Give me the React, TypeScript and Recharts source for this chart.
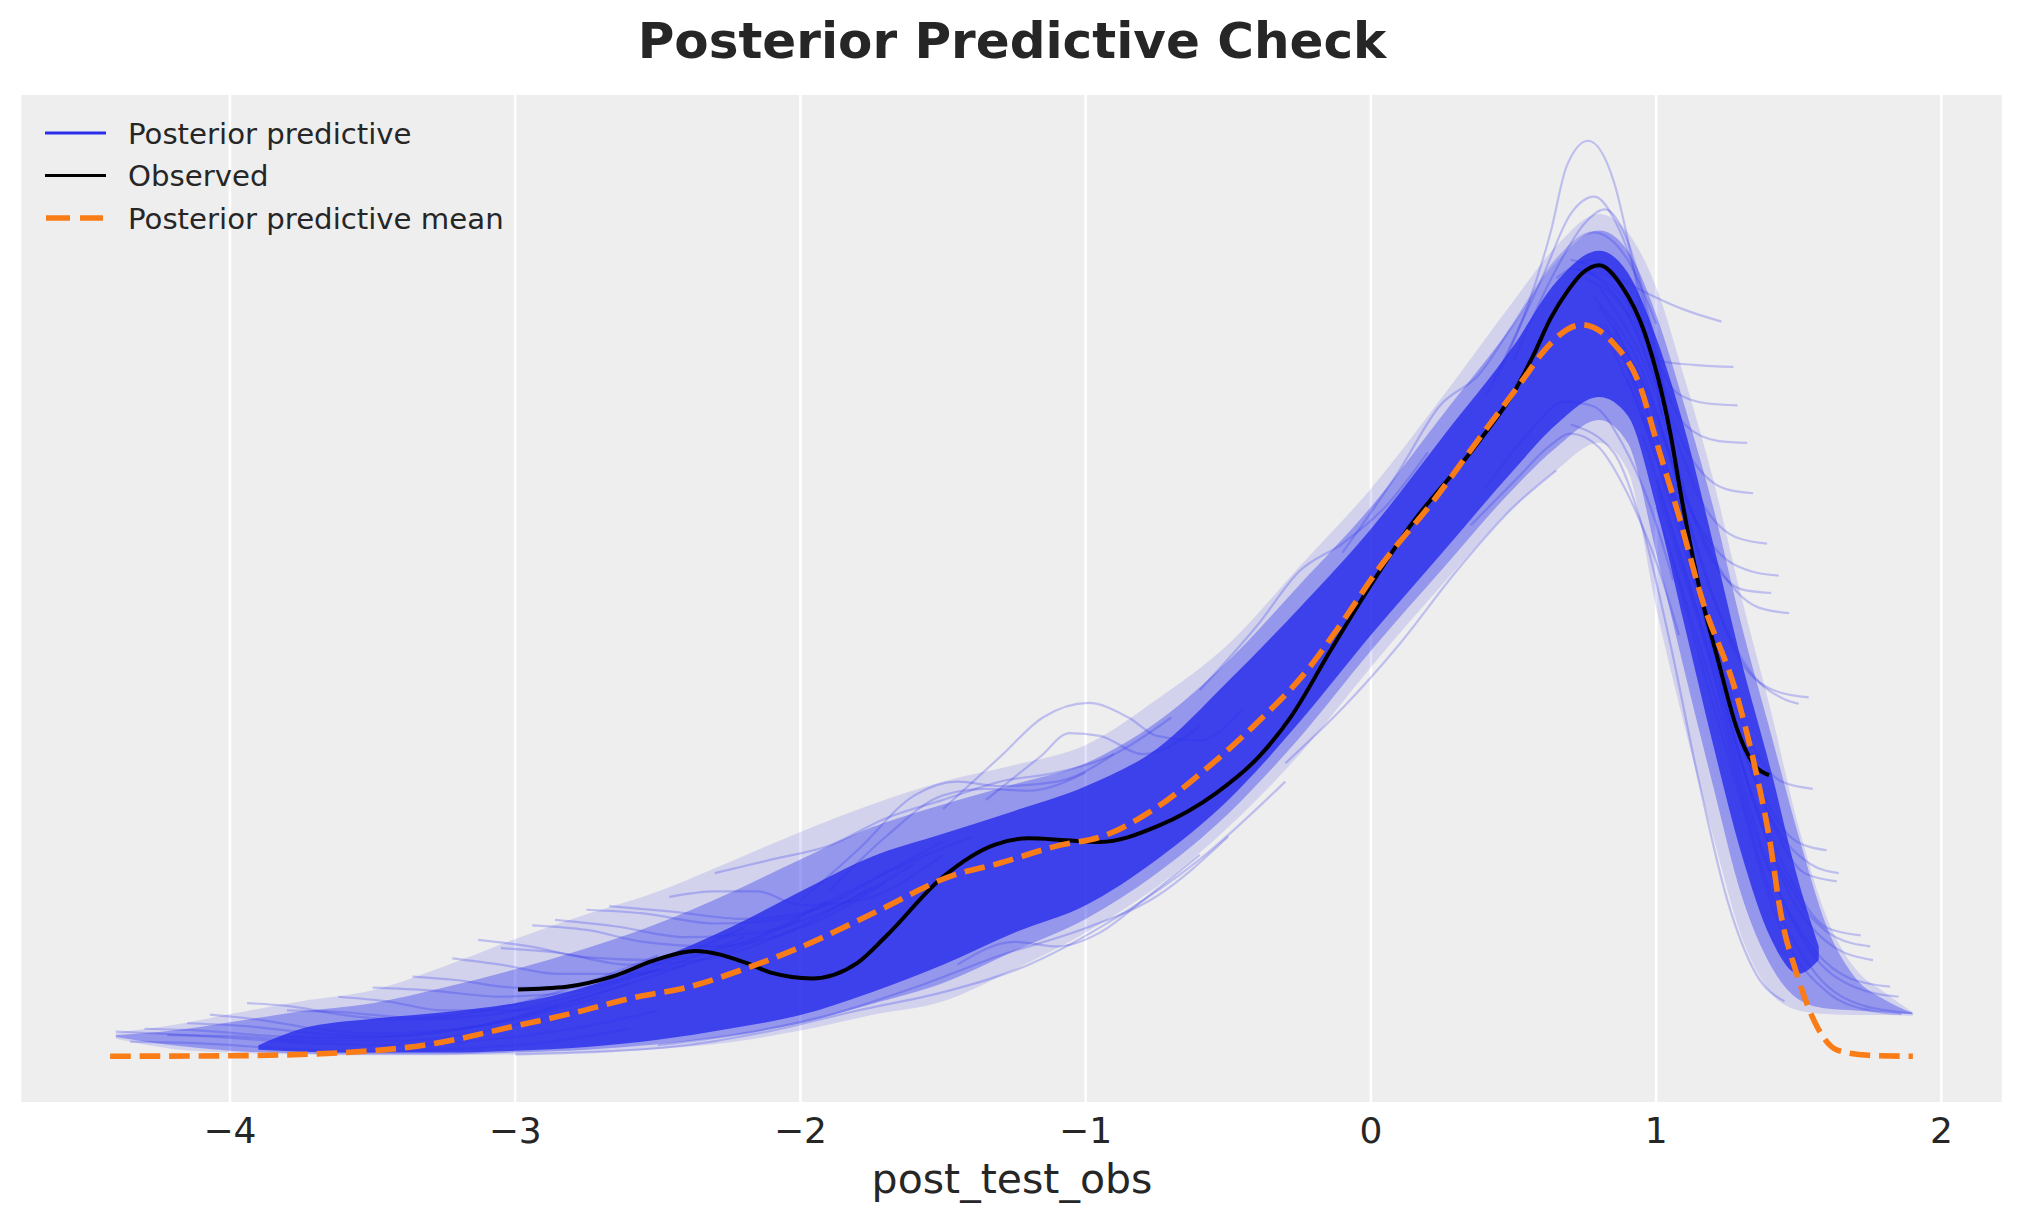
import React from "react";
import {
  ComposedChart,
  Line,
  Area,
  XAxis,
  YAxis,
  CartesianGrid,
} from "recharts";

// colores del estilo arviz-darkgrid
const BLUE = "#2a2eec";
const ORANGE = "#fa7c17";
const TEXT = "#262626";
const FONT = "DejaVu Sans, sans-serif";

const xTicks = [-4, -3, -2, -1, 0, 1, 2];

const obsX = [
  -2.99, -2.82, -2.66, -2.5, -2.37, -2.19, -2.1, -1.96, -1.8, -1.7, -1.5, -1.32,
  -1.2, -1.07, -0.95, -0.75, -0.54, -0.39, -0.28, -0.14, -0.03, 0.13, 0.38,
  0.51, 0.57, 0.63, 0.69, 0.74, 0.8, 0.88, 0.96, 1.05, 1.09, 1.16, 1.215, 1.284,
  1.34, 1.396,
];
const obsY = [
  0.073, 0.076, 0.087, 0.106, 0.115, 0.102, 0.091, 0.085, 0.102, 0.131, 0.196,
  0.231, 0.238, 0.236, 0.234, 0.251, 0.288, 0.328, 0.371, 0.444, 0.5, 0.576,
  0.672, 0.73, 0.766, 0.806, 0.836, 0.855, 0.864, 0.841, 0.79, 0.68, 0.608, 0.5,
  0.435, 0.357, 0.32, 0.307,
];

// media predictiva posterior
const meanX = [
  -4.42, -4.0, -3.6, -3.3, -3.0, -2.8, -2.57, -2.4, -2.2, -2.0, -1.72, -1.48,
  -1.3, -1.11, -0.93, -0.75, -0.57, -0.39, -0.22, -0.13, 0.04, 0.22, 0.38, 0.54,
  0.6, 0.74, 0.85, 0.94, 1.01, 1.08, 1.16, 1.285, 1.354, 1.396, 1.438, 1.494,
  1.563, 1.633, 1.744, 1.9,
];
const meanY = [
  0.0, 0.0005, 0.004, 0.013, 0.033, 0.047, 0.065, 0.075, 0.095, 0.119, 0.16,
  0.196, 0.211, 0.229, 0.2415, 0.272, 0.316, 0.367, 0.423, 0.461, 0.538, 0.607,
  0.675, 0.742, 0.768, 0.799, 0.779, 0.735, 0.662, 0.59, 0.5, 0.392, 0.305, 0.24,
  0.154, 0.089, 0.033, 0.007, 0.001, 0.0,
];

// envolventes de la nube de curvas predictivas
const bandX = [
  -4.4, -4.2, -4.0, -3.75, -3.5, -3.25, -3.0, -2.75, -2.5, -2.25, -2.0, -1.75,
  -1.5, -1.25, -1.0, -0.75, -0.5, -0.25, 0.0, 0.25, 0.5, 0.65, 0.8, 0.9, 1.0,
  1.1, 1.2, 1.3, 1.4, 1.5, 1.6, 1.7, 1.8, 1.9,
];
const outerLo = [
  0.019, 0.008, 0.004, 0.002, 0.001, 0.001, 0.002, 0.004, 0.008, 0.015, 0.028,
  0.045, 0.06, 0.095, 0.135, 0.185, 0.25, 0.33, 0.425, 0.515, 0.6, 0.64, 0.67,
  0.64, 0.49, 0.36, 0.24, 0.13, 0.07, 0.05, 0.046, 0.045, 0.045, 0.044,
];
const outerHi = [
  0.026, 0.034, 0.046, 0.06, 0.072, 0.098, 0.128, 0.155, 0.18, 0.212, 0.245,
  0.275, 0.3, 0.318, 0.34, 0.39, 0.45, 0.535, 0.62, 0.72, 0.825, 0.885, 0.92,
  0.9, 0.84, 0.74, 0.63, 0.5, 0.38, 0.25, 0.15, 0.095, 0.07, 0.048,
];
const midLo = [
  0.021, 0.012, 0.006, 0.003, 0.002, 0.002, 0.004, 0.007, 0.013, 0.022, 0.036,
  0.057, 0.08, 0.115, 0.15, 0.2, 0.265, 0.348, 0.443, 0.532, 0.62, 0.665, 0.695,
  0.67, 0.55, 0.42, 0.295, 0.175, 0.1, 0.062, 0.052, 0.05, 0.048, 0.046,
];
const midHi = [
  0.023, 0.028, 0.037, 0.049, 0.058, 0.075, 0.095, 0.118, 0.145, 0.178, 0.215,
  0.25, 0.275, 0.297, 0.32, 0.365, 0.432, 0.515, 0.6, 0.7, 0.8, 0.868, 0.902,
  0.88, 0.81, 0.71, 0.6, 0.47, 0.355, 0.24, 0.14, 0.085, 0.062, 0.047,
];
const coreX = [
  -3.9, -3.75, -3.5, -3.25, -3.0, -2.75, -2.5, -2.25, -2.0, -1.75, -1.5, -1.25,
  -1.0, -0.75, -0.5, -0.25, 0.0, 0.25, 0.5, 0.65, 0.8, 0.9, 1.0, 1.1, 1.2, 1.3,
  1.4, 1.5, 1.57,
];
const coreLo = [
  0.007, 0.005, 0.004, 0.004, 0.006, 0.01, 0.018, 0.03, 0.045, 0.07, 0.1, 0.135,
  0.165, 0.215, 0.28, 0.365, 0.46, 0.55, 0.64, 0.69, 0.72, 0.7, 0.6, 0.47, 0.34,
  0.22, 0.13, 0.09, 0.105,
];
const coreHi = [
  0.012, 0.03, 0.041, 0.048, 0.058, 0.076, 0.106, 0.14, 0.18, 0.218, 0.243,
  0.268, 0.295, 0.336, 0.41, 0.49, 0.576, 0.676, 0.776, 0.846, 0.88, 0.856,
  0.785, 0.685, 0.56, 0.43, 0.315, 0.19, 0.12,
];

// curvas sueltas visibles en los bordes de la nube
const leftTails: [number, number][][] = [
  [[-4.4, 0.027], [-4.2, 0.024], [-4.0, 0.02], [-3.7, 0.014], [-3.4, 0.012], [-3.1, 0.018], [-2.8, 0.03], [-2.5, 0.05]],
  [[-4.35, 0.016], [-4.1, 0.014], [-3.8, 0.008], [-3.5, 0.005], [-3.2, 0.008], [-2.9, 0.015], [-2.6, 0.03]],
  [[-4.3, 0.03], [-4.1, 0.028], [-3.85, 0.022], [-3.6, 0.02], [-3.3, 0.025], [-3.0, 0.04], [-2.7, 0.065]],
  [[-4.22, 0.023], [-4.0, 0.022], [-3.7, 0.017], [-3.4, 0.017], [-3.1, 0.028], [-2.8, 0.05]],
  [[-4.15, 0.036], [-3.95, 0.033], [-3.7, 0.025], [-3.45, 0.022], [-3.15, 0.032], [-2.85, 0.055]],
  [[-4.07, 0.0455], [-3.9, 0.04], [-3.7, 0.03], [-3.5, 0.025], [-3.2, 0.03], [-2.9, 0.05], [-2.6, 0.08]],
  [[-3.94, 0.058], [-3.8, 0.055], [-3.6, 0.045], [-3.4, 0.04], [-3.1, 0.045], [-2.8, 0.065], [-2.5, 0.095]],
  [[-3.8, 0.05], [-3.6, 0.048], [-3.35, 0.042], [-3.1, 0.05], [-2.8, 0.075], [-2.5, 0.11]],
  [[-3.62, 0.065], [-3.45, 0.06], [-3.25, 0.05], [-3.0, 0.05], [-2.7, 0.07], [-2.4, 0.1]],
  [[-3.5, 0.075], [-3.3, 0.072], [-3.05, 0.065], [-2.8, 0.07], [-2.5, 0.1], [-2.2, 0.14]],
  [[-3.36, 0.087], [-3.2, 0.083], [-3.0, 0.075], [-2.8, 0.075], [-2.5, 0.095], [-2.2, 0.13]],
  [[-3.22, 0.107], [-3.05, 0.1], [-2.85, 0.09], [-2.6, 0.09], [-2.3, 0.11], [-2.0, 0.15]],
  [[-3.13, 0.127], [-2.95, 0.12], [-2.75, 0.108], [-2.5, 0.105], [-2.2, 0.125], [-1.9, 0.17]],
  [[-3.05, 0.118], [-2.85, 0.113], [-2.6, 0.1], [-2.35, 0.105], [-2.05, 0.135], [-1.75, 0.185]],
  [[-2.94, 0.143], [-2.75, 0.138], [-2.55, 0.125], [-2.3, 0.12], [-2.0, 0.14], [-1.7, 0.19]],
  [[-2.86, 0.149], [-2.65, 0.142], [-2.4, 0.13], [-2.15, 0.135], [-1.9, 0.16], [-1.6, 0.21]],
  [[-2.75, 0.16], [-2.55, 0.156], [-2.3, 0.145], [-2.05, 0.15], [-1.8, 0.185], [-1.5, 0.235]],
  [[-2.67, 0.164], [-2.45, 0.158], [-2.2, 0.15], [-1.95, 0.16], [-1.7, 0.2], [-1.4, 0.24]],
  [[-2.46, 0.174], [-2.3, 0.18], [-2.15, 0.18], [-2.0, 0.165], [-1.8, 0.17], [-1.5, 0.22]],
];

const strayLines: [number, number][][] = [
  [[-2.3, 0.2], [-2.1, 0.215], [-1.9, 0.23], [-1.7, 0.26], [-1.5, 0.28], [-1.3, 0.3], [-1.1, 0.31], [-0.9, 0.33], [-0.7, 0.37]],
  [[-3.0, 0.002], [-2.7, 0.005], [-2.4, 0.012], [-2.1, 0.028], [-1.8, 0.05], [-1.5, 0.07], [-1.2, 0.1], [-0.9, 0.15], [-0.6, 0.215], [-0.3, 0.3]],
  [[-2.0, 0.17], [-1.8, 0.225], [-1.6, 0.285], [-1.45, 0.3], [-1.3, 0.295], [-1.1, 0.3], [-0.9, 0.33]],
  [[-1.9, 0.18], [-1.7, 0.24], [-1.5, 0.285], [-1.35, 0.292], [-1.2, 0.29], [-1.0, 0.31]],
  [[-2.5, 0.012], [-2.2, 0.025], [-1.9, 0.045], [-1.6, 0.075], [-1.3, 0.11], [-1.0, 0.14], [-0.75, 0.175], [-0.5, 0.24]],
  [[-1.45, 0.1], [-1.25, 0.125], [-1.1, 0.12], [-0.95, 0.135], [-0.8, 0.17], [-0.6, 0.22]],
  [[-1.5, 0.27], [-1.3, 0.327], [-1.15, 0.37], [-0.99, 0.386], [-0.85, 0.37], [-0.75, 0.35], [-0.6, 0.345], [-0.45, 0.38]],
  [[-1.35, 0.28], [-1.16, 0.327], [-1.056, 0.353], [-0.95, 0.35], [-0.8, 0.33], [-0.6, 0.36]],
  [[-0.6, 0.4], [-0.4, 0.47], [-0.25, 0.53], [-0.1, 0.56], [0.05, 0.6], [0.2, 0.66]],
  [[-0.3, 0.32], [-0.1, 0.38], [0.1, 0.45], [0.3, 0.53], [0.5, 0.6], [0.65, 0.64]],
  [[-0.1, 0.55], [0.1, 0.64], [0.24, 0.71], [0.38, 0.745], [0.5, 0.8], [0.65, 0.87], [0.78, 0.9], [0.9, 0.87], [1.0, 0.8]],
  [[0.4, 0.72], [0.55, 0.82], [0.63, 0.9], [0.686, 0.972], [0.761, 1.0], [0.853, 0.954], [0.908, 0.881], [0.964, 0.79], [1.02, 0.7]],
  [[0.45, 0.75], [0.6, 0.85], [0.7, 0.92], [0.783, 0.939], [0.86, 0.91], [0.95, 0.83], [1.03, 0.72]],
  [[0.5, 0.76], [0.65, 0.86], [0.75, 0.91], [0.82, 0.925], [0.9, 0.89], [0.98, 0.8], [1.05, 0.69]],
  [[0.35, 0.58], [0.518, 0.633], [0.62, 0.665], [0.7, 0.68], [0.8, 0.665], [0.881, 0.626], [0.95, 0.58], [1.006, 0.535], [1.08, 0.46]],
  [[0.4, 0.62], [0.55, 0.68], [0.68, 0.715], [0.78, 0.71], [0.88, 0.67], [0.98, 0.6], [1.06, 0.52]],
  [[0.7, 0.69], [0.85, 0.66], [0.95, 0.58], [1.05, 0.45], [1.15, 0.3], [1.25, 0.17], [1.35, 0.09], [1.45, 0.06]],
];

const rightTails: [number, number][][] = [
  [[0.65, 0.85], [0.78, 0.87], [0.881, 0.848], [0.992, 0.83], [1.103, 0.815], [1.229, 0.8025]],
  [[0.7, 0.86], [0.85, 0.85], [0.95, 0.8], [1.006, 0.76], [1.14, 0.755], [1.271, 0.753]],
  [[0.7, 0.87], [0.85, 0.85], [0.97, 0.78], [1.075, 0.724], [1.18, 0.713], [1.285, 0.711]],
  [[0.72, 0.86], [0.88, 0.83], [1.0, 0.75], [1.1, 0.69], [1.22, 0.672], [1.319, 0.67]],
  [[0.75, 0.85], [0.9, 0.81], [1.02, 0.72], [1.13, 0.65], [1.24, 0.62], [1.34, 0.615]],
  [[0.75, 0.86], [0.92, 0.8], [1.05, 0.69], [1.17, 0.6], [1.28, 0.567], [1.389, 0.56]],
  [[0.8, 0.8], [0.98, 0.72], [1.1, 0.61], [1.22, 0.55], [1.33, 0.53], [1.43, 0.525]],
  [[0.78, 0.83], [0.95, 0.75], [1.08, 0.63], [1.2, 0.54], [1.3, 0.51], [1.403, 0.506]],
  [[0.8, 0.84], [0.98, 0.74], [1.12, 0.6], [1.25, 0.52], [1.36, 0.49], [1.466, 0.484]],
  [[0.85, 0.8], [1.04, 0.66], [1.2, 0.5], [1.33, 0.42], [1.45, 0.39], [1.5, 0.385]],
  [[0.8, 0.82], [1.0, 0.7], [1.15, 0.55], [1.28, 0.44], [1.41, 0.4], [1.535, 0.392]],
  [[0.82, 0.8], [1.02, 0.66], [1.18, 0.48], [1.32, 0.35], [1.44, 0.3], [1.549, 0.292]],
  [[0.85, 0.79], [1.05, 0.63], [1.22, 0.43], [1.37, 0.29], [1.49, 0.235], [1.598, 0.225]],
  [[0.9, 0.75], [1.1, 0.57], [1.28, 0.36], [1.42, 0.25], [1.54, 0.21], [1.64, 0.2]],
  [[0.85, 0.77], [1.07, 0.6], [1.25, 0.39], [1.4, 0.26], [1.52, 0.2], [1.633, 0.191]],
  [[0.9, 0.74], [1.1, 0.56], [1.3, 0.32], [1.46, 0.2], [1.6, 0.14], [1.717, 0.132]],
  [[1.0, 0.63], [1.18, 0.45], [1.36, 0.26], [1.5, 0.17], [1.63, 0.13], [1.75, 0.12]],
  [[0.95, 0.7], [1.15, 0.5], [1.33, 0.29], [1.48, 0.17], [1.62, 0.12], [1.76, 0.105]],
  [[0.95, 0.68], [1.15, 0.48], [1.35, 0.24], [1.52, 0.13], [1.68, 0.085], [1.82, 0.076]],
  [[1.0, 0.62], [1.2, 0.42], [1.38, 0.22], [1.54, 0.115], [1.7, 0.075], [1.85, 0.065]],
  [[1.0, 0.6], [1.2, 0.4], [1.4, 0.18], [1.56, 0.09], [1.73, 0.055], [1.897, 0.047]],
  [[1.05, 0.55], [1.25, 0.33], [1.45, 0.13], [1.6, 0.07], [1.75, 0.05], [1.86, 0.046]],
];

const toRows = (xs: number[], ys: number[]) => xs.map((x, i) => ({ x, y: ys[i] }));
const toBand = (xs: number[], lo: number[], hi: number[]) =>
  xs.map((x, i) => ({ x, band: [lo[i], hi[i]] }));
const toPts = (pts: [number, number][]) => pts.map(([x, y]) => ({ x, y }));

const fmtTick = (v: number) => String(v).replace("-", "\u2212");

const W = 2023;
const H = 1223;

const App: React.FC = () => {
  const sampleLines = [...leftTails, ...strayLines, ...rightTails];

  return (
    <div style={{ position: "absolute", left: 0, top: 0, width: W, height: H, background: "#fff" }}>
      <ComposedChart
        width={W}
        height={H}
        margin={{ top: 95, right: 20, bottom: 61, left: 20 }}
      >
        <CartesianGrid
          horizontal={false}
          stroke="#ffffff"
          strokeWidth={2.6}
          fill="#eeeeee"
        />
        <XAxis
          type="number"
          dataKey="x"
          domain={[-4.736, 2.216]}
          ticks={xTicks}
          allowDataOverflow
          axisLine={false}
          tickLine={false}
          tickSize={0}
          tickMargin={15}
          height={60}
          tickFormatter={fmtTick}
          tick={{ fill: TEXT, fontSize: 36, fontFamily: FONT }}
        />
        <YAxis type="number" hide domain={[-0.05, 1.05]} allowDataOverflow />

        <Area
          data={toBand(bandX, outerLo, outerHi)}
          dataKey="band"
          type="monotone"
          stroke="none"
          fill={BLUE}
          fillOpacity={0.14}
          isAnimationActive={false}
          legendType="none"
          activeDot={false}
        />
        <Area
          data={toBand(bandX, midLo, midHi)}
          dataKey="band"
          type="monotone"
          stroke="none"
          fill={BLUE}
          fillOpacity={0.36}
          isAnimationActive={false}
          legendType="none"
          activeDot={false}
        />
        <Area
          data={toBand(coreX, coreLo, coreHi)}
          dataKey="band"
          type="monotone"
          stroke="none"
          fill={BLUE}
          fillOpacity={0.82}
          isAnimationActive={false}
          legendType="none"
          activeDot={false}
        />

        {sampleLines.map((pts, i) => (
          <Line
            key={`pp-${i}`}
            data={toPts(pts)}
            dataKey="y"
            type="monotone"
            stroke={BLUE}
            strokeOpacity={0.25}
            strokeWidth={2.2}
            dot={false}
            activeDot={false}
            isAnimationActive={false}
            legendType="none"
          />
        ))}

        <Line
          data={toRows(obsX, obsY)}
          dataKey="y"
          type="monotone"
          stroke="#000000"
          strokeWidth={4}
          dot={false}
          activeDot={false}
          isAnimationActive={false}
          legendType="none"
        />
        <Line
          data={toRows(meanX, meanY)}
          dataKey="y"
          type="monotone"
          stroke={ORANGE}
          strokeWidth={5.6}
          strokeDasharray="20.6 8.9"
          dot={false}
          activeDot={false}
          isAnimationActive={false}
          legendType="none"
        />
      </ComposedChart>

      {/* título, etiqueta del eje y leyenda */}
      <svg
        width={W}
        height={H}
        style={{ position: "absolute", left: 0, top: 0, pointerEvents: "none" }}
      >
        <text
          x={1012}
          y={58}
          textAnchor="middle"
          fontFamily={FONT}
          fontWeight="bold"
          fontSize={50}
          fill={TEXT}
        >
          Posterior Predictive Check
        </text>
        <text
          x={1012}
          y={1193}
          textAnchor="middle"
          fontFamily={FONT}
          fontSize={41}
          fill={TEXT}
        >
          post_test_obs
        </text>

        <line x1={45} x2={106} y1={133} y2={133} stroke={BLUE} strokeWidth={2.8} />
        <line x1={45} x2={106} y1={175.5} y2={175.5} stroke="#000000" strokeWidth={3} />
        <line
          x1={46}
          x2={103}
          y1={218}
          y2={218}
          stroke={ORANGE}
          strokeWidth={5.6}
          strokeDasharray="24 10"
        />
        <text x={128} y={143.5} fontFamily={FONT} fontSize={29.2} fill={TEXT}>
          Posterior predictive
        </text>
        <text x={128} y={186} fontFamily={FONT} fontSize={29.2} fill={TEXT}>
          Observed
        </text>
        <text x={128} y={228.5} fontFamily={FONT} fontSize={29.2} fill={TEXT}>
          Posterior predictive mean
        </text>
      </svg>
    </div>
  );
};

export default App;
